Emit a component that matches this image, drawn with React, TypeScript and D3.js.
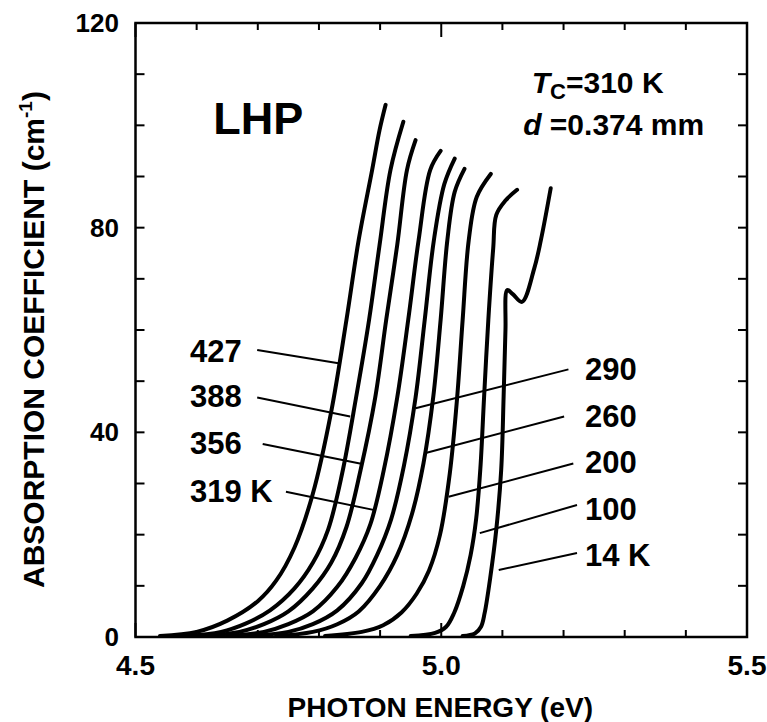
import React from "react";
import * as d3 from "d3";

// ---- Data (photon energy eV, absorption coefficient cm^-1) ----
const curve427: [number, number][] = [[4.54,0.2],[4.60,1.0],[4.65,3.2],[4.70,7.0],[4.73,11],[4.76,17.5],[4.79,28],[4.82,44],[4.845,62],[4.865,77.6],[4.887,91.3],[4.899,99],[4.909,104]];
const curve388: [number, number][] = [[4.58,0.2],[4.64,1.0],[4.68,2.6],[4.72,5.2],[4.76,9.5],[4.79,14.5],[4.815,21],[4.838,32],[4.861,47],[4.882,62],[4.899,76.5],[4.917,91.3],[4.938,100.7]];
const curve356: [number, number][] = [[4.61,0.2],[4.67,1.0],[4.71,2.5],[4.75,5.0],[4.79,9.5],[4.82,14.5],[4.845,21.5],[4.868,32.6],[4.892,46.8],[4.91,62],[4.928,76.6],[4.944,91.3],[4.958,97.1]];
const curve319: [number, number][] = [[4.65,0.2],[4.71,1.0],[4.75,2.5],[4.79,5.0],[4.83,9.8],[4.86,15.5],[4.884,22],[4.906,32.6],[4.928,46.8],[4.946,62],[4.963,77.6],[4.982,91.3],[4.999,95]];
const curve290: [number, number][] = [[4.69,0.2],[4.75,1.0],[4.79,2.5],[4.83,5.2],[4.87,10.5],[4.895,16],[4.918,23],[4.939,33.5],[4.958,46.8],[4.973,62],[4.988,77.6],[5.005,88.5],[5.022,93.5]];
const curve260: [number, number][] = [[4.73,0.2],[4.79,1.0],[4.83,2.5],[4.865,5.0],[4.90,10],[4.928,16],[4.952,24],[4.971,34],[4.987,47],[4.999,62],[5.010,77.6],[5.022,87],[5.038,91.5]];
const curve200: [number, number][] = [[4.81,0.2],[4.87,1.0],[4.905,2.3],[4.935,4.8],[4.96,8.5],[4.98,13],[4.998,20],[5.014,32],[5.026,46.8],[5.035,62],[5.045,77.6],[5.058,86],[5.081,90.5]];
const curve100: [number, number][] = [[4.95,0.2],[4.99,0.8],[5.008,2],[5.021,4.7],[5.036,10],[5.048,16],[5.057,23],[5.064,33],[5.070,46.8],[5.077,62],[5.085,76],[5.090,82.5],[5.105,85.3],[5.124,87.4]];
const curve14: [number, number][] = [[5.035,0.2],[5.055,0.7],[5.065,2.0],[5.071,4.7],[5.080,11.5],[5.090,21],[5.098,32.6],[5.102,47],[5.105,60],[5.108,67.8],[5.117,67],[5.132,65.5],[5.152,72],[5.163,77.6],[5.179,87.7]];

const series = [curve427, curve388, curve356, curve319, curve290, curve260, curve200, curve100, curve14];

// Labels: text, text anchor point (E, alpha baseline), leader from -> to
const leftLabels = ["427", "388", "356", "319 K"];
const leftLabelPos: [number, number][] = [[4.589, 53.8], [4.589, 44.9], [4.589, 35.8], [4.589, 26.4]];
const leftLeaders: [number, number, number, number][] = [
  [4.699, 56.1, 4.832, 53.5],
  [4.699, 46.8, 4.851, 43.1],
  [4.708, 37.7, 4.871, 33.8],
  [4.746, 28.4, 4.891, 24.8],
];
const rightLabels = ["290", "260", "200", "100", "14 K"];
const rightLabelPos: [number, number][] = [[5.235, 50.2], [5.235, 41.1], [5.235, 32.0], [5.235, 22.9], [5.235, 13.8]];
const rightLeaders: [number, number, number, number][] = [
  [5.208, 52.3, 4.958, 44.7],
  [5.201, 43.1, 4.976, 36.0],
  [5.216, 33.9, 5.012, 27.4],
  [5.222, 25.8, 5.063, 20.3],
  [5.222, 16.4, 5.094, 13.1],
];

const xTickValues = d3.range(0, 11).map((i) => 4.5 + i * 0.1);
const xLabelValues = [4.5, 5.0, 5.5];
const yTickValues = d3.range(0, 13).map((i) => i * 10);
const yLabelValues = [0, 40, 80, 120];

const W = 767;
const H = 722;
const left = 135.5, right = 747, top = 23, bottom = 637;
const FONT = "'Liberation Sans', Arial, Helvetica, sans-serif";

export default function App() {
  const x = d3.scaleLinear().domain([4.5, 5.5]).range([left, right]);
  const y = d3.scaleLinear().domain([0, 120]).range([bottom, top]);
  const line = d3
    .line<[number, number]>()
    .x((d) => x(d[0]))
    .y((d) => y(d[1]))
    .curve(d3.curveCatmullRom.alpha(0.5));

  const isMajorX = (v: number) => xLabelValues.some((m) => Math.abs(m - v) < 1e-6);

  return (
    <svg width={W} height={H} style={{ position: "absolute", left: 0, top: 0, background: "#fff" }} fontFamily={FONT} fontWeight="bold">
      <rect x={0} y={0} width={W} height={H} fill="#fff" />
      {/* ticks */}
      {xTickValues.map((v, i) => {
        const len = isMajorX(v) ? 14 : 7;
        return (
          <g key={"xt" + i} stroke="#000" strokeWidth={2}>
            <line x1={x(v)} x2={x(v)} y1={bottom} y2={bottom - len} />
            <line x1={x(v)} x2={x(v)} y1={top} y2={top + len} />
          </g>
        );
      })}
      {yTickValues.map((v, i) => (
        <g key={"yt" + i} stroke="#000" strokeWidth={2}>
          <line x1={left} x2={left + 9} y1={y(v)} y2={y(v)} />
          <line x1={right} x2={right - 9} y1={y(v)} y2={y(v)} />
        </g>
      ))}
      {/* frame */}
      <rect x={left} y={top} width={right - left} height={bottom - top} fill="none" stroke="#000" strokeWidth={2.5} />

      {/* curves */}
      {series.map((s, i) => (
        <path key={"c" + i} d={line(s) || ""} fill="none" stroke="#000" strokeWidth={4} strokeLinecap="round" strokeLinejoin="round" />
      ))}

      {/* leaders */}
      {[...leftLeaders, ...rightLeaders].map((l, i) => (
        <line key={"ld" + i} x1={x(l[0])} y1={y(l[1])} x2={x(l[2])} y2={y(l[3])} stroke="#000" strokeWidth={2} />
      ))}
      {leftLabels.map((t, i) => (
        <text key={"ll" + i} x={x(leftLabelPos[i][0])} y={y(leftLabelPos[i][1])} fontSize={31}>{t}</text>
      ))}
      {rightLabels.map((t, i) => (
        <text key={"rl" + i} x={x(rightLabelPos[i][0])} y={y(rightLabelPos[i][1])} fontSize={31}>{t}</text>
      ))}

      {/* annotations */}
      <text x={x(4.627)} y={y(98.4)} fontSize={45}>LHP</text>
      <text x={x(5.148)} y={y(106.3)} fontSize={30}>
        <tspan fontStyle="italic">T</tspan>
        <tspan fontSize={22} dy={6}>C</tspan>
        <tspan dy={-6}>=310 K</tspan>
      </text>
      <text x={x(5.134)} y={y(98.1)} fontSize={30}>
        <tspan fontStyle="italic">d</tspan>
        <tspan> =0.374 mm</tspan>
      </text>

      {/* axis labels */}
      {xLabelValues.map((v, i) => (
        <text key={"xl" + i} x={x(v)} y={675} fontSize={28} textAnchor="middle">{v.toFixed(1)}</text>
      ))}
      {yLabelValues.map((v, i) => (
        <text key={"yl" + i} x={119} y={y(v) + 9} fontSize={26} textAnchor="end">{v}</text>
      ))}
      <text x={(left + right) / 2 - 1} y={717} fontSize={28} textAnchor="middle">PHOTON ENERGY (eV)</text>
      <text transform={`translate(44, 588) rotate(-90)`} fontSize={30} textAnchor="start">
        ABSORPTION COEFFICIENT (cm<tspan fontSize={19} dy={-12}>-1</tspan><tspan dy={12}>)</tspan>
      </text>
    </svg>
  );
}
